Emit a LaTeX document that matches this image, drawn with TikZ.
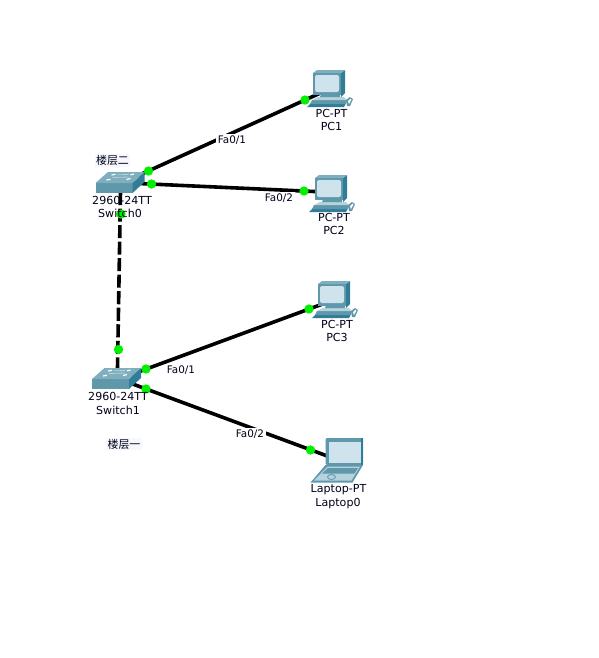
\documentclass[tikz,border=0pt]{standalone}
\usepackage{fontspec}
\setmainfont{DejaVu Sans}
\newfontfamily\cjk{Noto Sans CJK SC}
\definecolor{ictop}{HTML}{7FAEBF}
\definecolor{icmid}{HTML}{5F97AB}
\definecolor{icdark}{HTML}{2F7D96}
\definecolor{icscreen}{HTML}{CFE3EC}
\definecolor{icpale}{HTML}{B5D2DD}
\definecolor{lblue}{HTML}{F6F8FD}
\definecolor{lnk}{HTML}{00F000}
\tikzset{
  x=0.75pt,y=-0.75pt,
  link/.style={line width=2.7pt,black},
  dashlink/.style={link,dash pattern=on 9.8pt off 2.6pt},
  dot/.style={circle,fill=lnk,inner sep=0pt,minimum size=7pt},
  lab/.style={font=\fontsize{8.3}{10}\selectfont,text=black!90!blue,inner sep=0pt,align=center},
  portlab/.style={lab,font=\fontsize{7.8}{10}\selectfont,fill=white,inner xsep=1.5pt,inner ysep=1pt},
  cjklab/.style={lab,font=\cjk\fontsize{8.2}{10}\selectfont,fill=lblue,inner xsep=1pt,inner ysep=1pt},
}
\newcommand{\swicon}[2]{\begin{scope}[shift={(#1,#2)}]
  \fill[icmid] (0,11) -- (37,11) -- (37,21) -- (0,21) -- cycle;
  \fill[icdark] (37,11) -- (49,0) -- (49,10) -- (37,21) -- cycle;
  \fill[ictop] (0,11) -- (12.500,0) -- (49,0) -- (37,11) -- cycle;
  \draw[white,line width=0.9pt] (11,8) -- (15,7.300) (31,7.500) -- (35,6.500) (16,3) -- (20,2.300) (35,2.800) -- (38.500,2);
  \draw[icpale,line width=0.6pt] (17,5.500) -- (33,5) (22,2.800) -- (33,2.500);
\end{scope}}
\newcommand{\pcicon}[2]{\begin{scope}[shift={(#1,#2)}]
  \fill[icdark] (-2,33) -- (33,33) -- (31,37) -- (-6,37) -- cycle;
  \fill[icmid] (-1,30) -- (34,30) -- (33,34) -- (-3,34) -- cycle;
  \fill[icpale] (5,27) -- (31,27) -- (34,30) -- (-1,30) -- cycle;
  \fill[icmid] (9,22) -- (27,22) -- (27,27) -- (7,27) -- cycle;
  \fill[icmid] (0,3) -- (28,3) -- (28,25) -- (0,25) -- cycle;
  \fill[icdark] (28,3) -- (32,0) -- (32,23) -- (28,27) -- cycle;
  \fill[ictop] (0,3) -- (4,0) -- (32,0) -- (28,3) -- cycle;
  \fill[icscreen,rounded corners=1.5pt] (2,5) -- (26,5) -- (26,22) -- (2,22) -- cycle;
  \fill[icmid] (33,30) -- (37,27) -- (40,29) -- (37,36) -- (34,36) -- cycle;
  \fill[white] (35,31) -- (37.500,28.500) -- (38.500,29.500) -- (36,34) -- cycle;
\end{scope}}
\newcommand{\lapicon}[2]{\begin{scope}[shift={(#1,#2)}]
  \fill[icmid,rounded corners=1pt] (15,0) -- (52.500,0) -- (52.500,27) -- (15,27) -- cycle;
  \fill[icdark] (50,0) -- (52.500,0) -- (52.500,27) -- (50,27) -- cycle;
  \fill[icscreen] (18,4) -- (50,4) -- (50,25) -- (18,25) -- cycle;
  \fill[icmid] (15,27) -- (52.500,27) -- (42,44.500) -- (0,44.500) -- cycle;
  \fill[icpale] (17,28.500) -- (49.500,28.500) -- (41,42.500) -- (3.500,42.500) -- cycle;
  \fill[icmid] (17.500,30) -- (47.500,30) -- (44,35.500) -- (11.500,35.500) -- cycle;
  \draw[icmid,line width=0.6pt] (21,39) ellipse (4 and 2.500);
\end{scope}}
\begin{document}
\begin{tikzpicture}
\useasboundingbox (0,0) rectangle (599,658);
% connector end points under the icons
\coordinate (swAtop) at (120.500,192);
\coordinate (swBtop) at (117.300,380);
\coordinate (swAportA) at (135,177);
\coordinate (swAportB) at (128,183);
\coordinate (swBportA) at (130,375);
\coordinate (swBportB) at (130,383);
\coordinate (pcA) at (322,92.300);
\coordinate (pcB) at (325,192);
\coordinate (pcC) at (330,301.300);
\coordinate (lap) at (330,457);
% connectors
\draw[link] (swAportB) -- (pcB);
\draw[link] (swAportA) -- (pcA);
\draw[link] (swBportA) -- (pcC);
\draw[link] (swBportB) -- (lap);
\draw[dashlink] (swAtop) -- (swBtop);
% icons
\swicon{95.500}{172}
\swicon{92}{368}
\pcicon{313}{70}
\pcicon{315}{175}
\pcicon{318}{281}
\lapicon{310.500}{438}
% link lights
\node[dot] (d1) at (305,100) {};
\node[dot] (d2) at (148.500,171) {};
\node[dot] (d3) at (151.500,184) {};
\node[dot] (d4) at (304,191) {};
\node[dot] (d5) at (121,214) {};
\node[dot] (d6) at (118.500,349.500) {};
\node[dot] (d7) at (146,369) {};
\node[dot] (d8) at (146,389) {};
\node[dot] (d9) at (309,309) {};
\node[dot] (d10) at (310.500,450) {};
% port labels
\node[portlab] (l1) at (232,140) {Fa0/1};
\node[portlab] (l2) at (279,198) {Fa0/2};
\node[portlab] (l3) at (181,370) {Fa0/1};
\node[portlab] (l4) at (250,434) {Fa0/2};
% device labels
\node[lab] (t1) at (331.500,113) {PC-PT};
\node[lab] (t2) at (331.500,126.500) {PC1};
\node[lab] (t3) at (334,217) {PC-PT};
\node[lab] (t4) at (334,230.500) {PC2};
\node[lab] (t5) at (337,324) {PC-PT};
\node[lab] (t6) at (337,337) {PC3};
\node[lab] (t7) at (338.500,490) {Laptop-PT};
\node[lab] (t8) at (338,503.500) {Laptop0};
\node[lab] (t9) at (122,200) {2960-24TT};
\node[lab] (t10) at (120,213.500) {Switch0};
\node[lab] (t11) at (118,396) {2960-24TT};
\node[lab] (t12) at (118,410) {Switch1};
\node[cjklab] (t13) at (112.500,160.500) {楼层二};
\node[cjklab] (t14) at (124,444) {楼层一};
\end{tikzpicture}
\end{document}
